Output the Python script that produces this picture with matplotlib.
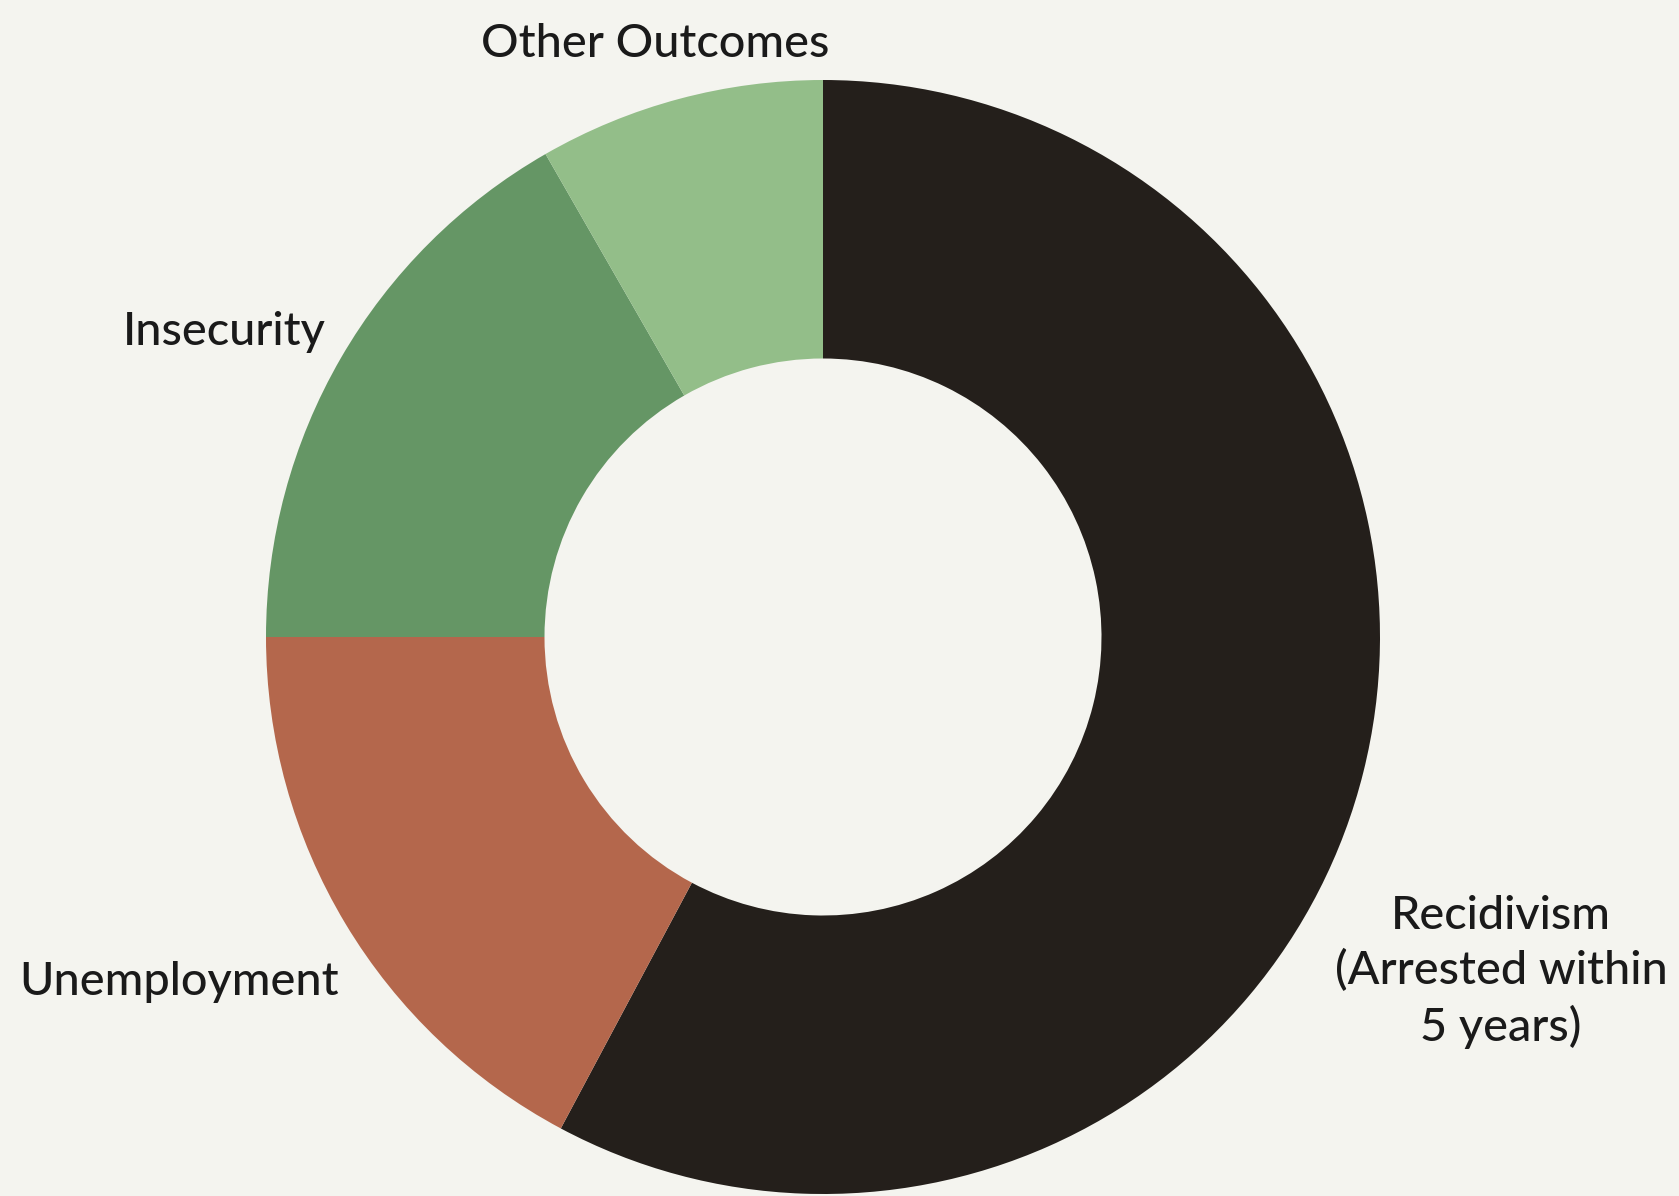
import matplotlib
matplotlib.use("Agg")
import matplotlib.pyplot as plt

categories = ["Recidivism\n(Arrested within\n5 years)", "Unemployment", "Insecurity", "Other Outcomes"]
values = [57.8, 17.2, 16.7, 8.3]
colors = ["#241f1b", "#b4674c", "#659665", "#93be89"]

W, H = 1679, 1196
bg = "#f4f4ef"
fig = plt.figure(figsize=(W / 100, H / 100), dpi=100, facecolor=bg)
ax = fig.add_axes([0, 0, 1, 1])
ax.set_facecolor(bg)

cx, cy, R = 823, H - 637, 557
ax.pie(values, colors=colors, startangle=90, counterclock=False,
       center=(cx, cy), radius=R, frame=True,
       wedgeprops=dict(width=R * 0.5, linewidth=0))
ax.set_xlim(0, W)
ax.set_ylim(0, H)
ax.set_aspect("equal")
ax.axis("off")

font = ["Lato", "DejaVu Sans"]
fs = 33.7
label_pos = {
    "Other Outcomes": (655, H - 44),
    "Insecurity": (224, H - 332),
    "Unemployment": (179, H - 982),
    categories[0]: (1501, H - 972),
}
for cat in categories:
    x, y = label_pos[cat]
    ax.text(x, y, cat, ha="center", va="center", multialignment="center",
            fontsize=fs, family=font, fontweight="medium", color="#1a1a1a",
            linespacing=1.35)

fig.savefig("out.png", dpi=100, facecolor=bg)
